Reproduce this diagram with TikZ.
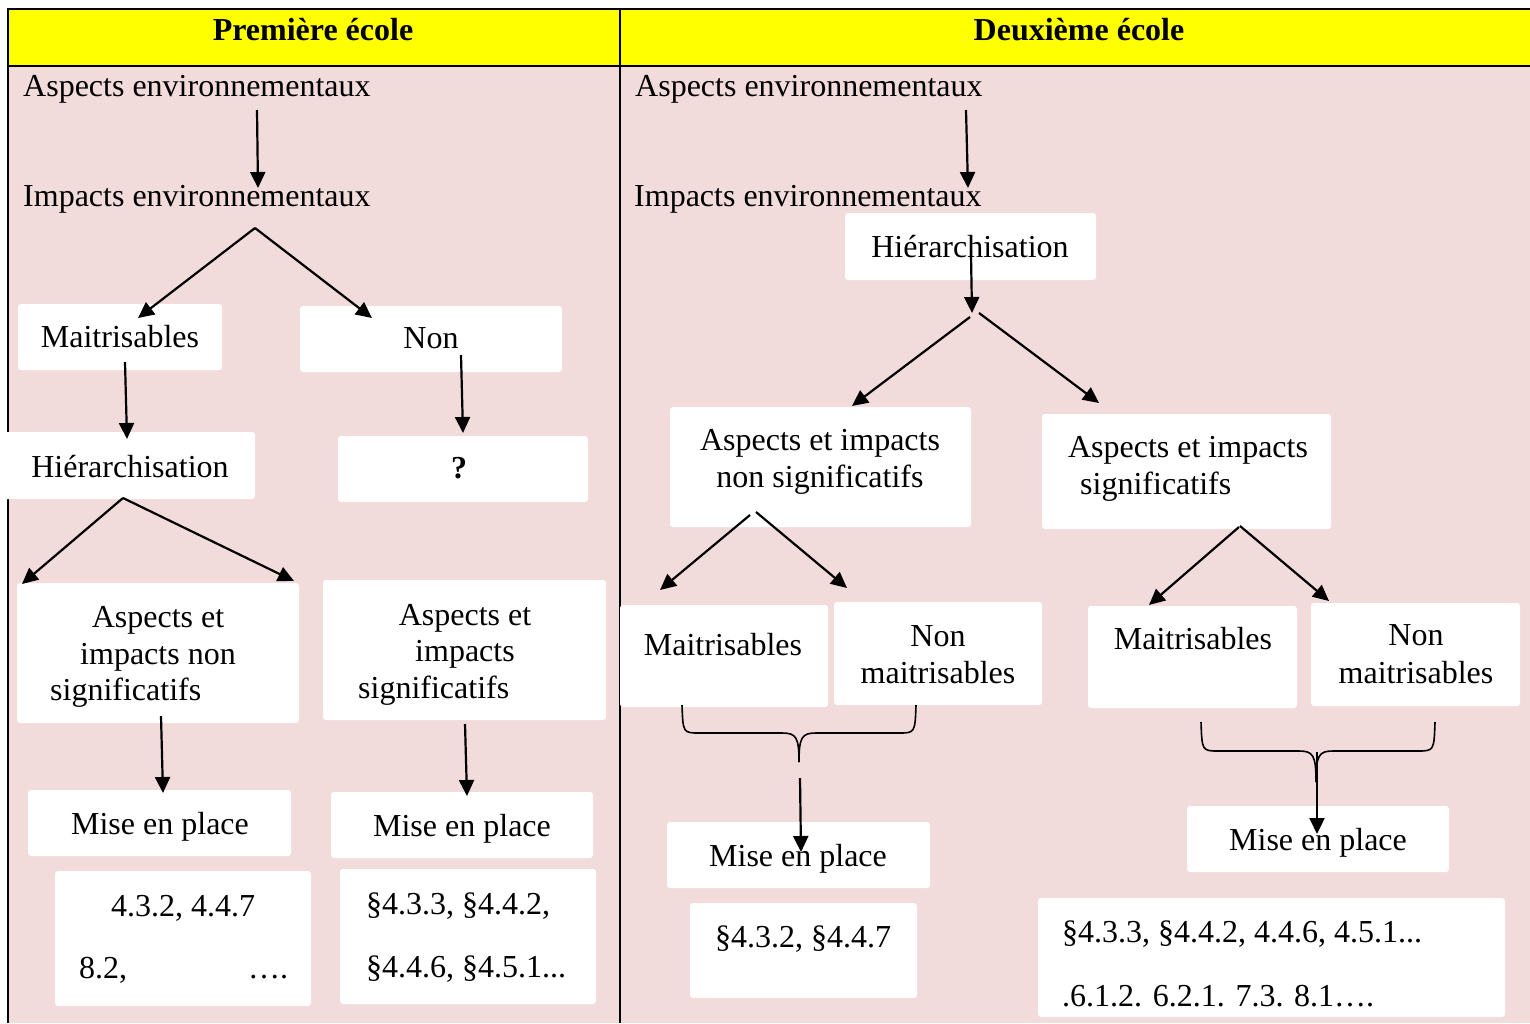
\documentclass[tikz,border=0pt]{standalone}
\usepackage{fontspec}
\setmainfont{Liberation Serif}
\usetikzlibrary{arrows.meta}
\definecolor{rosebg}{HTML}{F2DBDB}
\definecolor{headyellow}{HTML}{FFFF00}

% white rounded box given by its top-left and bottom-right corners
\newcommand\wbox[5]{\node[box, minimum width={(#4)-(#2)}, minimum height={(#5)-(#3)}] (#1) at (#2,#3) {};}

\begin{document}
\begin{tikzpicture}[x=1pt,y=-1pt,
  box/.style={fill=white, rounded corners=3pt, inner sep=0pt, outer sep=0pt, anchor=north west},
  txt/.style={inner sep=0pt, anchor=base, font=\fontsize{32}{38}\selectfont},
  ltxt/.style={txt, anchor=base west},
  head/.style={inner sep=0pt, anchor=base, font=\fontsize{32}{38}\selectfont\bfseries},
  flow/.style={line width=2.2pt, -{Triangle[length=16pt,width=15pt]}},
  brace/.style={line width=1.6pt},
  frame/.style={line width=2.2pt}]

\useasboundingbox (0,0) rectangle (1530,1023);

% table background and rules
\fill[rosebg] (8,66) rectangle (1530,1023);
\fill[headyellow] (8,9) rectangle (1530,66);
\draw[frame] (7,9) -- (1530,9);
\draw[frame] (8,66) -- (1530,66);
\draw[frame] (8,9) -- (8,1023);
\draw[frame] (620,9) -- (620,1023);

% header
\node[head] (h1) at (313,40) {Première école};
\node[head] (h2) at (1079,40) {Deuxième école};

% ---------- first school ----------
\node[ltxt] (ae1) at (23,96) {Aspects environnementaux};
\node[ltxt] (ie1) at (23,206) {Impacts environnementaux};

\wbox{lmait}{18}{304}{222}{370}
\wbox{lnon}{300}{306}{562}{372}
\wbox{lhier}{3}{432}{255}{499}
\wbox{lq}{338}{436}{588}{502}
\wbox{lnsig}{17}{583}{299}{723}
\wbox{lsig}{323}{580}{606}{720}
\wbox{lmep1}{28}{790}{291}{856}
\wbox{lmep2}{331}{792}{593}{858}
\wbox{lref1}{55}{871}{311}{1006}
\wbox{lref2}{340}{869}{596}{1004}

\node[txt] (tlmait) at (120,347) {Maitrisables};
\node[txt] (tlnon) at (431,348) {Non};
\node[txt] (tlhier) at (130,477) {Hiérarchisation};
\node[head] (tlq) at (459,478) {?};
\node[txt] (tlns1) at (158,627) {Aspects et};
\node[txt] (tlns2) at (158,664) {impacts non};
\node[ltxt] (tlns3) at (50,700) {significatifs};
\node[txt] (tls1) at (465,625) {Aspects et};
\node[txt] (tls2) at (465,661) {impacts};
\node[ltxt] (tls3) at (358,698) {significatifs};
\node[txt] (tlmep1) at (160,834) {Mise en place};
\node[txt] (tlmep2) at (462,836) {Mise en place};
\node[txt] (tlr1a) at (183,916) {4.3.2, 4.4.7};
\node[ltxt] (tlr1b) at (79,978) {8.2,};
\node[ltxt] (tlr1c) at (248,978) {\dots.};
\node[ltxt] (tlr2a) at (366,914) {§4.3.3, §4.4.2,};
\node[ltxt] (tlr2b) at (366,977) {§4.4.6, §4.5.1...};

% arrow end points
\coordinate (p1s) at (257,110);  \coordinate (p1e) at (258,188);
\coordinate (p2s) at (255,228);  \coordinate (p2l) at (138,318); \coordinate (p2r) at (372,318);
\coordinate (p3s) at (125,362);  \coordinate (p3e) at (127,439);
\coordinate (p4s) at (461,355);  \coordinate (p4e) at (463,433);
\coordinate (p5s) at (123,498);  \coordinate (p5l) at (22,584);  \coordinate (p5r) at (294,581);
\coordinate (p6s) at (161,716);  \coordinate (p6e) at (163,793);
\coordinate (p7s) at (465,724);  \coordinate (p7e) at (467,796);

\draw[flow] (p1s) -- (p1e);
\draw[flow] (p2s) -- (p2l);
\draw[flow] (p2s) -- (p2r);
\draw[flow] (p3s) -- (p3e);
\draw[flow] (p4s) -- (p4e);
\draw[flow] (p5s) -- (p5l);
\draw[flow] (p5s) -- (p5r);
\draw[flow] (p6s) -- (p6e);
\draw[flow] (p7s) -- (p7e);

% ---------- second school ----------
\node[ltxt] (ae2) at (635,96) {Aspects environnementaux};
\node[ltxt] (ie2) at (634,206) {Impacts environnementaux};

\wbox{rhier}{845}{213}{1096}{280}
\wbox{rnsig}{670}{407}{971}{527}
\wbox{rsig}{1042}{414}{1331}{529}
\wbox{rmait1}{620}{605}{828}{707}
\wbox{rnon1}{834}{602}{1042}{705}
\wbox{rmait2}{1088}{606}{1297}{708}
\wbox{rnon2}{1311}{603}{1520}{706}
\wbox{rmep1}{667}{822}{930}{888}
\wbox{rmep2}{1187}{806}{1449}{872}
\wbox{rref1}{690}{903}{917}{998}
\wbox{rref2}{1038}{898}{1505}{1017}

\node[txt] (trhier) at (970,257) {Hiérarchisation};
\node[txt] (trns1) at (820,450) {Aspects et impacts};
\node[txt] (trns2) at (820,487) {non significatifs};
\node[txt] (trs1) at (1188,457) {Aspects et impacts};
\node[ltxt] (trs2) at (1080,494) {significatifs};
\node[txt] (trm1) at (723,655) {Maitrisables};
\node[txt] (trn1a) at (938,646) {Non};
\node[txt] (trn1b) at (938,683) {maitrisables};
\node[txt] (trm2) at (1193,649) {Maitrisables};
\node[txt] (trn2a) at (1416,645) {Non};
\node[txt] (trn2b) at (1416,683) {maitrisables};
\node[txt] (trmep1) at (798,866) {Mise en place};
\node[txt] (trmep2) at (1318,850) {Mise en place};
\node[txt] (trr1) at (803,947) {§4.3.2, §4.4.7};
\node[ltxt] (trr2a) at (1062,942) {§4.3.3, §4.4.2, 4.4.6, 4.5.1...};
\begin{scope}
  \clip (1038,960) rectangle (1505,1008);
  \node[ltxt] (trr2b) at (1062,1006) {.6.1.2. 6.2.1. 7.3. 8.1\dots.};
\end{scope}

% arrow end points
\coordinate (q1s) at (966,110);  \coordinate (q1e) at (968,188);
\coordinate (q2s) at (971,255);  \coordinate (q2e) at (972,313);
\coordinate (q3l) at (970,317);  \coordinate (q3le) at (852,406);
\coordinate (q3r) at (979,313);  \coordinate (q3re) at (1099,403);
\coordinate (q4l) at (750,515);  \coordinate (q4le) at (660,590);
\coordinate (q4r) at (756,512);  \coordinate (q4re) at (847,588);
\coordinate (q5l) at (1239,527); \coordinate (q5le) at (1149,605);
\coordinate (q5r) at (1240,526); \coordinate (q5re) at (1329,601);
\coordinate (q6s) at (800,778);  \coordinate (q6e) at (801,852);
\coordinate (q7s) at (1317,752); \coordinate (q7e) at (1317,834);

\draw[flow] (q1s) -- (q1e);
\draw[flow] (q2s) -- (q2e);
\draw[flow] (q3l) -- (q3le);
\draw[flow] (q3r) -- (q3re);
\draw[flow] (q4l) -- (q4le);
\draw[flow] (q4r) -- (q4re);
\draw[flow] (q5l) -- (q5le);
\draw[flow] (q5r) -- (q5re);
\draw[flow] (q6s) -- (q6e);
\draw[flow] (q7s) -- (q7e);

% braces grouping the two categories
\coordinate (b1tip) at (799,762);
\draw[brace] (682,705) .. controls (683,733) and (683,733) .. (700,733) -- (782,733)
  .. controls (796,733) and (799,737) .. (b1tip);
\draw[brace] (916,705) .. controls (915,733) and (915,733) .. (898,733) -- (816,733)
  .. controls (802,733) and (799,737) .. (b1tip);
\coordinate (b2tip) at (1316,782);
\draw[brace] (1201,722) .. controls (1202,751) and (1202,751) .. (1219,751) -- (1299,751)
  .. controls (1313,751) and (1316,755) .. (b2tip);
\draw[brace] (1435,722) .. controls (1434,751) and (1434,751) .. (1417,751) -- (1333,751)
  .. controls (1319,751) and (1316,755) .. (b2tip);

\end{tikzpicture}
\end{document}
